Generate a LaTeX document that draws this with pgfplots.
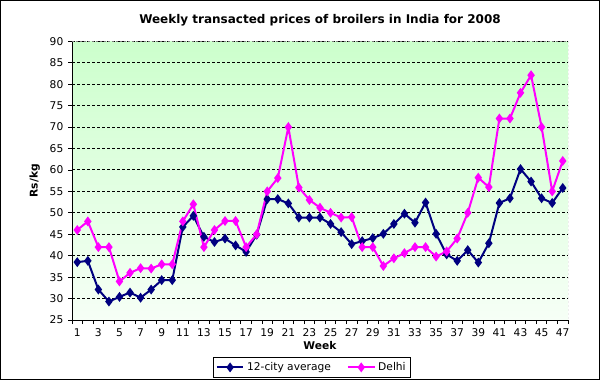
\documentclass[border=0pt]{standalone}
\usepackage{fontspec}
\setmainfont{DejaVu Sans}
\usepackage{pgfplots}
\pgfplotsset{compat=1.18}
\definecolor{navy}{RGB}{0,0,128}
\definecolor{mag}{RGB}{255,0,255}
\definecolor{topg}{RGB}{204,255,204}
\definecolor{botg}{RGB}{246,255,246}
\begin{document}
\begin{tikzpicture}
\useasboundingbox (0,0) rectangle (450pt,285pt);
\draw[line width=0.75pt] (0.375pt,0.375pt) rectangle (449.625pt,284.625pt);
\begin{axis}[
  at={(54pt,45pt)}, anchor=south west,
  scale only axis, width=372pt, height=209pt,
  xmin=0.5, xmax=47.5, ymin=25, ymax=90,
  xtick={1,3,...,47}, minor xtick={0.5,1.5,...,47.5},
  ytick={25,30,...,90},
  tick align=outside, major tick length=3pt, minor tick length=3pt,
  every major x tick/.append style={draw=none},
  tick style={black, line width=0.6pt},
  axis x line*=bottom, axis y line*=left,
  axis line style={black, line width=0.75pt},
  ymajorgrids,
  major grid style={black, line width=0.75pt, dash pattern=on 2.25pt off 1.5pt},
  axis background/.style={shade, top color=topg, bottom color=botg},
  tick label style={font=\fontsize{8}{9}\selectfont},
  /pgf/number format/assume math mode=true,
  title={\textbf{Weekly transacted prices of broilers in India for 2008}},
  every axis title/.style={at={(0.5,1.076)}, anchor=center, font=\fontsize{9}{11}\selectfont},
  xlabel={\textbf{Week}}, ylabel={\textbf{Rs/kg}},
  xlabel style={at={(0.5,-0.09)}, anchor=center, font=\fontsize{8}{9}\selectfont},
  ylabel style={at={(-0.075,0.5)}, anchor=center, font=\fontsize{8}{9}\selectfont},
  legend columns=2,
  legend style={at={(0.484,-0.17)}, anchor=center, draw=black, line width=0.75pt,
    font=\fontsize{8}{9}\selectfont, inner sep=1.5pt,
    /tikz/every even column/.append style={column sep=10pt}},
  legend image code/.code={\draw[mark repeat=2,mark phase=2,#1] plot coordinates {(0pt,0pt) (10pt,0pt) (20pt,0pt)};},
]
\addplot[navy, line width=1.5pt, mark=diamond*, mark size=2.5pt] coordinates {
(1,38.5)(2,38.8)(3,32.1)(4,29.3)(5,30.4)(6,31.4)(7,30.2)(8,32.1)(9,34.3)(10,34.3)
(11,46.7)(12,49.3)(13,44.4)(14,43.2)(15,44.0)(16,42.4)(17,40.9)(18,44.9)(19,53.2)(20,53.2)
(21,52.2)(22,48.9)(23,48.9)(24,48.9)(25,47.4)(26,45.5)(27,42.7)(28,43.4)(29,44.1)(30,45.1)
(31,47.4)(32,49.8)(33,47.7)(34,52.4)(35,45.1)(36,40.3)(37,38.8)(38,41.3)(39,38.4)(40,42.9)
(41,52.3)(42,53.4)(43,60.2)(44,57.3)(45,53.4)(46,52.3)(47,55.8)};
\addlegendentry{12-city average}
\addplot[mag, line width=1.5pt, mark=diamond*, mark size=2.5pt] coordinates {
(1,46)(2,48)(3,42)(4,42)(5,34)(6,36)(7,37.1)(8,37)(9,38)(10,38)
(11,48)(12,52)(13,42)(14,46)(15,48.1)(16,48.1)(17,42)(18,45)(19,55)(20,58.1)
(21,70)(22,55.9)(23,53)(24,51.2)(25,50)(26,48.9)(27,49)(28,42)(29,42)(30,37.6)
(31,39.4)(32,40.6)(33,42)(34,42)(35,39.8)(36,41)(37,44)(38,50)(39,58.2)(40,56)
(41,72)(42,72)(43,78)(44,82.1)(45,70)(46,55)(47,62.1)};
\addlegendentry{Delhi}
\draw[gray, line width=0.75pt, dash pattern=on 1.5pt off 1.5pt] (rel axis cs:0,1) -- (rel axis cs:1,1) -- (rel axis cs:1,0);
\end{axis}
\end{tikzpicture}
\end{document}
